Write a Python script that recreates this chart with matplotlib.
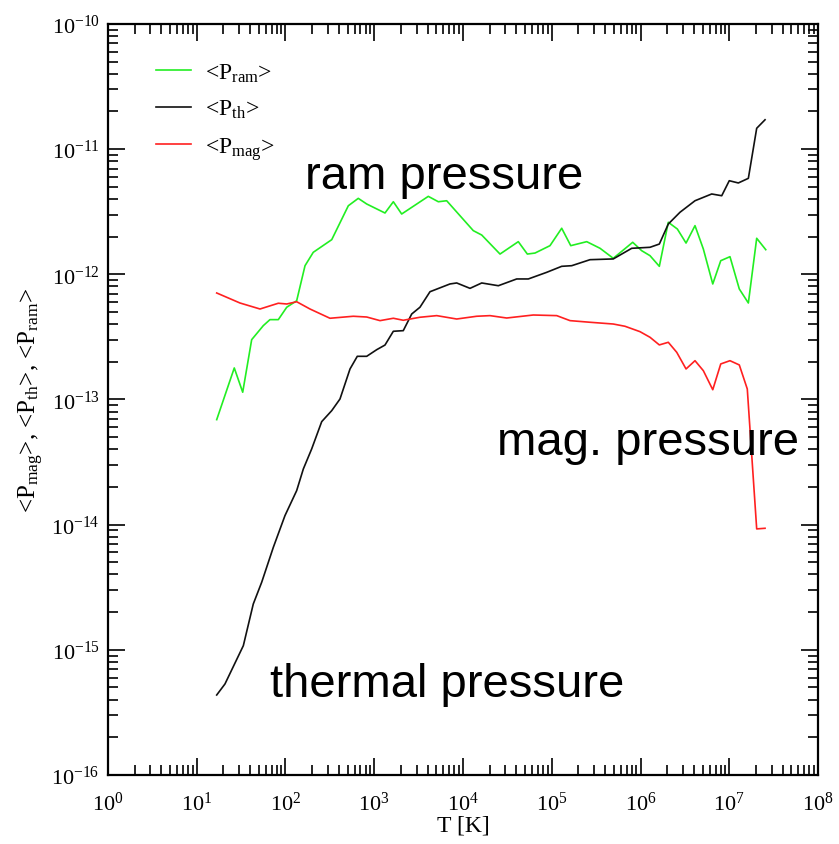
import numpy as np
import matplotlib
matplotlib.use('Agg')
import matplotlib.pyplot as plt
from matplotlib.ticker import LogLocator, LogFormatterSciNotation, NullFormatter

plt.rcParams['mathtext.fontset'] = 'custom'
plt.rcParams['mathtext.rm'] = 'Liberation Serif'
plt.rcParams['mathtext.it'] = 'Liberation Serif:italic'
plt.rcParams['font.family'] = 'Liberation Serif'
plt.rcParams['axes.unicode_minus'] = False

# values, as log10(T [K]) and log10(P)
ram_logT = [1.225, 1.423, 1.518, 1.619, 1.750, 1.825, 1.919, 2.014, 2.126, 2.220,
            2.313, 2.521, 2.708, 2.820, 2.915, 3.121, 3.215, 3.309, 3.609, 3.722,
            3.816, 4.116, 4.211, 4.417, 4.623, 4.725, 4.811, 4.980, 5.112, 5.214,
            5.394, 5.544, 5.693, 5.912, 6.013, 6.107, 6.212, 6.313, 6.415, 6.513,
            6.614, 6.708, 6.814, 6.904, 7.008, 7.113, 7.215, 7.309, 7.411]
ram_logP = [-13.161, -12.748, -12.942, -12.522, -12.410, -12.362, -12.362, -12.263, -12.211, -11.931,
            -11.824, -11.723, -11.452, -11.393, -11.438, -11.510, -11.420, -11.518, -11.377, -11.420,
            -11.412, -11.651, -11.686, -11.838, -11.739, -11.838, -11.830, -11.771, -11.632, -11.771,
            -11.739, -11.792, -11.872, -11.744, -11.811, -11.851, -11.936, -11.584, -11.638, -11.750,
            -11.611, -11.798, -12.077, -11.891, -11.859, -12.117, -12.229, -11.712, -11.803]

th_logT = [1.225, 1.318, 1.525, 1.637, 1.732, 1.863, 1.994, 2.126, 2.201, 2.295,
           2.408, 2.521, 2.614, 2.727, 2.809, 2.915, 3.028, 3.121, 3.215, 3.327,
           3.422, 3.515, 3.628, 3.853, 3.929, 4.079, 4.211, 4.398, 4.605, 4.736,
           4.943, 5.112, 5.225, 5.431, 5.693, 5.901, 6.107, 6.212, 6.313, 6.445,
           6.614, 6.802, 6.915, 7.000, 7.102, 7.215, 7.309, 7.403]
th_logP = [-15.361, -15.273, -14.967, -14.634, -14.460, -14.181, -13.928, -13.728, -13.555, -13.395,
           -13.177, -13.089, -12.996, -12.756, -12.655, -12.655, -12.602, -12.565, -12.455, -12.450,
           -12.317, -12.263, -12.139, -12.077, -12.069, -12.112, -12.069, -12.091, -12.037, -12.037,
           -11.984, -11.936, -11.931, -11.883, -11.877, -11.792, -11.784, -11.758, -11.598, -11.504,
           -11.412, -11.358, -11.372, -11.252, -11.270, -11.233, -10.833, -10.765]

mag_logT = [1.225, 1.487, 1.713, 1.919, 2.014, 2.126, 2.276, 2.501, 2.764, 2.915,
            3.065, 3.215, 3.327, 3.515, 3.704, 3.929, 4.154, 4.304, 4.492, 4.792,
            5.056, 5.206, 5.431, 5.693, 5.825, 5.994, 6.107, 6.212, 6.313, 6.408,
            6.513, 6.614, 6.708, 6.814, 6.904, 7.008, 7.113, 7.203, 7.309, 7.403]
mag_logP = [-12.149, -12.229, -12.277, -12.231, -12.237, -12.219, -12.277, -12.351, -12.335, -12.341,
            -12.370, -12.351, -12.367, -12.343, -12.330, -12.357, -12.335, -12.330, -12.349, -12.325,
            -12.330, -12.370, -12.383, -12.397, -12.415, -12.458, -12.503, -12.564, -12.543, -12.623,
            -12.756, -12.690, -12.770, -12.922, -12.716, -12.690, -12.724, -12.916, -14.034, -14.029]

fig = plt.figure(figsize=(8.39, 8.45), dpi=100)
ax = fig.add_axes([0.1287, 0.0817, 0.8463, 0.8887])

ax.plot(10**np.array(ram_logT), 10**np.array(ram_logP), color='#22ee22', lw=1.2,
        label=r'<P$_{\rm ram}$>')
ax.plot(10**np.array(th_logT), 10**np.array(th_logP), color='#111111', lw=1.2,
        label=r'<P$_{\rm th}$>')
ax.plot(10**np.array(mag_logT), 10**np.array(mag_logP), color='#ff2020', lw=1.2,
        label=r'<P$_{\rm mag}$>')

ax.set_xscale('log')
ax.set_yscale('log')
ax.set_xlim(1, 1e8)
ax.set_ylim(1e-16, 1e-10)

for axis in (ax.xaxis, ax.yaxis):
    axis.set_major_locator(LogLocator(base=10, numticks=20))
    axis.set_minor_locator(LogLocator(base=10, subs=np.arange(2, 10), numticks=20))
    axis.set_major_formatter(LogFormatterSciNotation())
    axis.set_minor_formatter(NullFormatter())

ax.tick_params(which='both', direction='in', top=True, right=True, width=1.2,
               labelsize=16)
ax.tick_params(which='major', length=12)
ax.tick_params(which='minor', length=7)
ax.tick_params(axis='x', which='major', pad=12)
ax.tick_params(axis='y', which='major', pad=6)
for sp in ax.spines.values():
    sp.set_linewidth(1.6)

ax.set_xlabel('T [K]', fontsize=17, labelpad=0)
ax.set_ylabel(r'<P$_{\rm mag}$>, <P$_{\rm th}$>, <P$_{\rm ram}$>', fontsize=18, labelpad=4)

ax.legend(loc='upper left', bbox_to_anchor=(0.054, 0.963), frameon=False,
          fontsize=17, handlelength=1.5, handletextpad=0.6, labelspacing=0.62,
          borderaxespad=0)

txt = dict(fontsize=34, family='Liberation Sans', transform=ax.transAxes,
           ha='left', va='baseline')
ax.text(0.277, 0.7816, 'ram pressure', **txt)
ax.text(0.548, 0.4274, 'mag. pressure', **txt)
ax.text(0.228, 0.1052, 'thermal pressure', **txt)

fig.savefig('out.png', dpi=100)
